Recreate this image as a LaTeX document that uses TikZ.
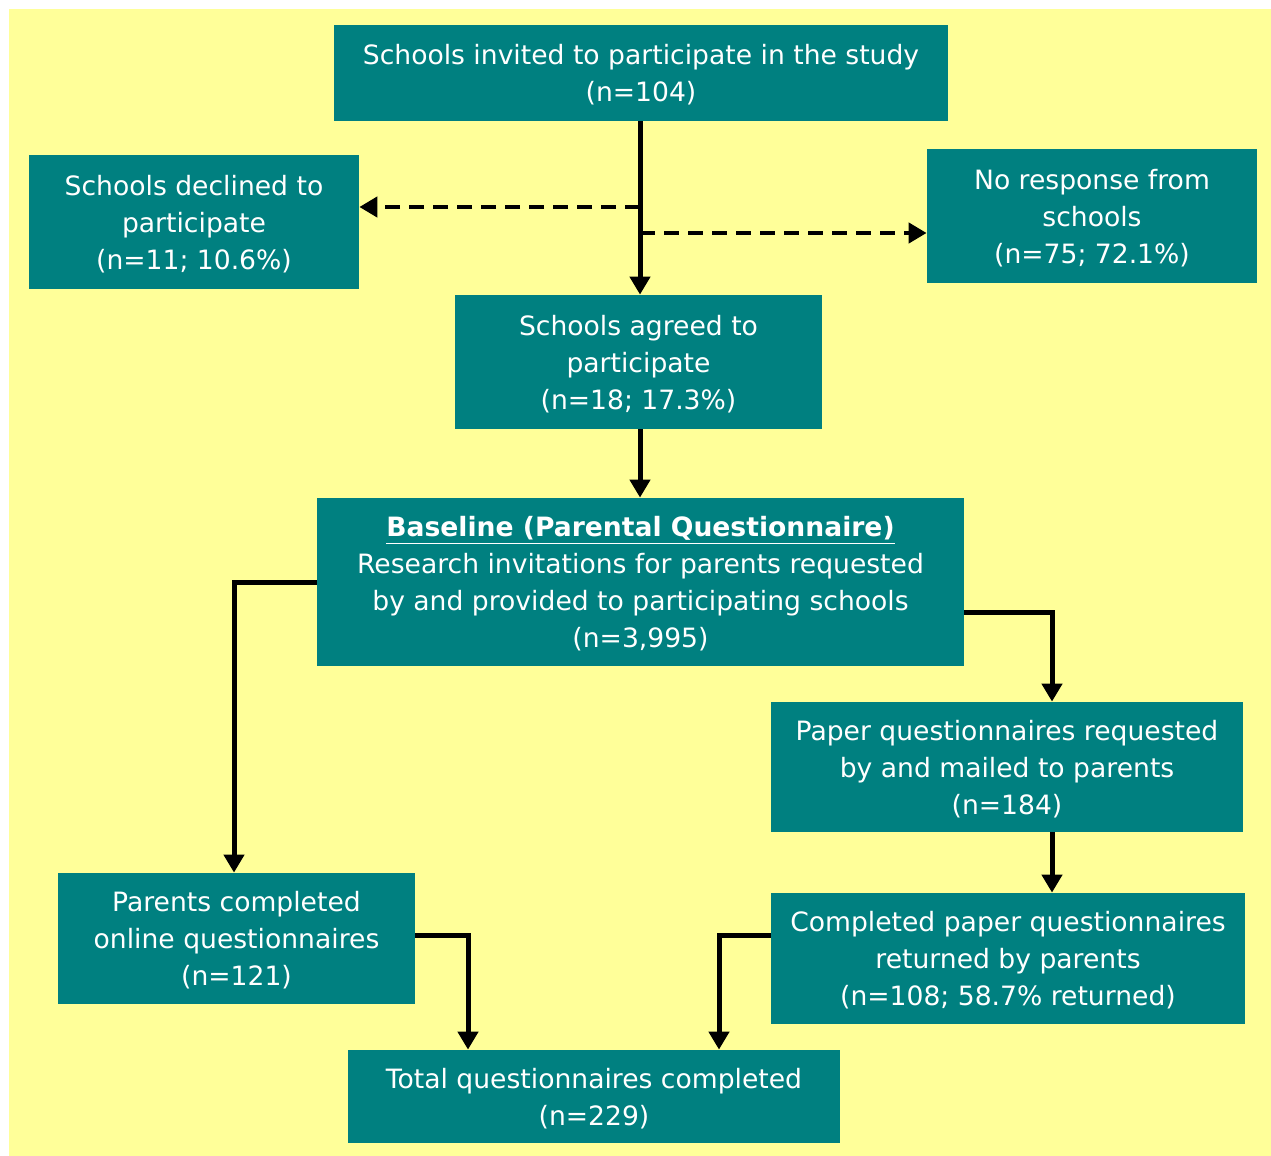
\documentclass[tikz,border=0pt]{standalone}
\usepackage{fontspec}
\setmainfont{DejaVu Sans}
\usetikzlibrary{arrows.meta}
\definecolor{teal}{RGB}{0,128,128}
\definecolor{paleyellow}{RGB}{255,255,153}
\tikzset{
  box/.style={fill=teal,text=white,align=center,inner sep=0pt,text depth=-2pt,
    font=\fontsize{13.3}{18.5}\selectfont},
  arr/.style={line width=2.5pt,-{Triangle[width=10pt,length=9pt]}},
  dasharr/.style={arr,line width=2.2pt,dash pattern=on 7.5pt off 4.5pt}
}
\begin{document}
\begin{tikzpicture}[x=0.5pt,y=-0.5pt]
\useasboundingbox (0,0) rectangle (1271,1156);
\fill[paleyellow] (9,9) rectangle (1271,1156); % background
% boxes
\node[box,minimum width=307pt,minimum height=48pt] (invited) at (641,73)
  {Schools invited to participate in the study\\(n=104)};
\node[box,minimum width=165pt,minimum height=67pt] (declined) at (194,222)
  {Schools declined to\\participate\\(n=11; 10.6\%)};
\node[box,minimum width=165pt,minimum height=67pt] (noresp) at (1092,216.5)
  {No response from\\schools\\(n=75; 72.1\%)};
\node[box,minimum width=183.5pt,minimum height=67pt] (agreed) at (638.5,362)
  {Schools agreed to\\participate\\(n=18; 17.3\%)};
\node[box,minimum width=323.5pt,minimum height=84pt] (base) at (640.5,582)
  {\underline{\textbf{Baseline (Parental Questionnaire)}}\\Research invitations for parents requested\\by and provided to participating schools\\(n=3,995)};
\node[box,minimum width=236pt,minimum height=65pt] (paper) at (1007,767)
  {Paper questionnaires requested\\by and mailed to parents\\(n=184)};
\node[box,minimum width=178.5pt,minimum height=65.5pt] (online) at (236.5,938.5)
  {Parents completed\\online questionnaires\\(n=121)};
\node[box,minimum width=237pt,minimum height=65.5pt] (comp) at (1008,958.5)
  {Completed paper questionnaires\\returned by parents\\(n=108; 58.7\% returned)};
\node[box,minimum width=246pt,minimum height=46.5pt] (total) at (594,1096.5)
  {Total questionnaires completed\\(n=229)};
% connectors
\coordinate (mid) at (640,0);
\coordinate (jl) at (640,207);
\coordinate (jr) at (640,233);
\draw[arr] (mid |- invited.south) -- (mid |- agreed.north);
\draw[dasharr] (jl) -- (jl -| declined.east);
\draw[dasharr] (jr) -- (jr -| noresp.west);
\draw[arr] (mid |- agreed.south) -- (mid |- base.north);
\coordinate (bl) at (234,582);
\draw[arr] (bl -| base.west) -- (bl) -- (bl |- online.north);
\coordinate (br) at (1052,612);
\draw[arr] (br -| base.east) -- (br) -- (br |- paper.north);
\draw[arr] (br |- paper.south) -- (br |- comp.north);
\coordinate (ol) at (468,935);
\draw[arr] (ol -| online.east) -- (ol) -- (ol |- total.north);
\coordinate (cl) at (719,935);
\draw[arr] (cl -| comp.west) -- (cl) -- (cl |- total.north);
\end{tikzpicture}
\end{document}
